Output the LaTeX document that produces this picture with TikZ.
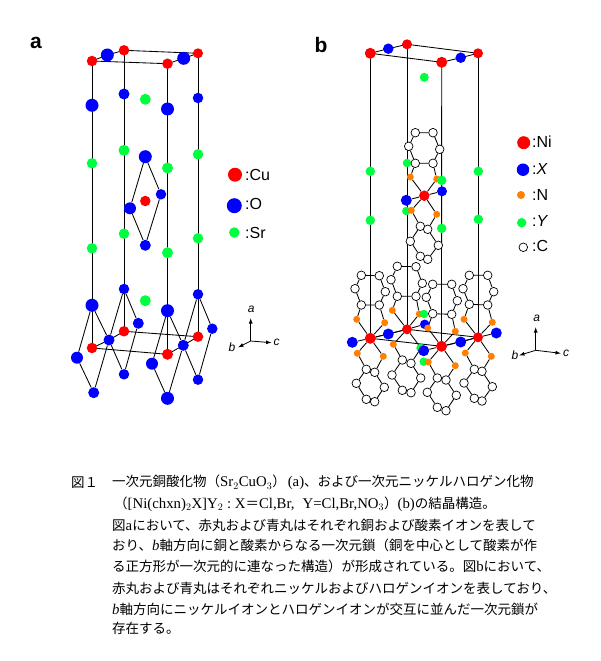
\documentclass[tikz,border=0pt]{standalone}
\usepackage{fontspec}
\setmainfont{Liberation Serif}
\setsansfont{Liberation Sans}
\newfontfamily\cjk{Noto Sans CJK JP}
\usetikzlibrary{backgrounds}
\definecolor{srgreen}{RGB}{0,255,64}
\definecolor{norange}{RGB}{255,128,0}
\tikzset{
    atom/.style={circle, inner sep=0pt},
    redatom/.style={atom, fill=red},
    blueatom/.style={atom, fill=blue},
    greenatom/.style={atom, fill=srgreen},
    orangeatom/.style={atom, fill=norange},
    carbon/.style={atom, draw=black, fill=white, line width=0.7pt, minimum size=8.6pt},
    bond/.style={black, line width=0.85pt},
    panel/.style={font=\sffamily\bfseries\fontsize{21}{21}\selectfont},
    legend/.style={anchor=west, inner sep=0pt, font=\sffamily\fontsize{16}{16}\selectfont},
    axis/.style={black, line width=0.8pt, -latex},
    axislabel/.style={inner sep=0pt, font=\sffamily\itshape\fontsize{12}{12}\selectfont},
    caption/.style={anchor=west, inner sep=0pt, font=\cjk\fontsize{13.5}{13.5}\selectfont}
}
\newcommand{\latin}[1]{{\rmfamily\fontsize{14.8}{14.8}\selectfont #1}}
\begin{document}
\begin{tikzpicture}[x=1pt, y=-1pt]
    \useasboundingbox (0,0) rectangle (600,661);
    \node[panel] (labela) at (36,43) {a};
    \node[panel] (labelb) at (321,45) {b};

    % panel a
    \foreach \n/\x/\y/\d in {sa1/92/163.3/10.5, sa2/124/150.3/11, sa3/167.5/168/11, sa4/198/154.3/10.5,
        sa5/92/248.3/10.5, sa6/124/233.7/10.5, sa7/167.5/252.7/11, sa8/198/238.3/10.5, sa9/145.3/99.3/11, sa10/145.3/300.7/11}
        \node[greenatom, minimum size=\d pt] (\n) at (\x,\y) {};
    \foreach \n/\x/\y/\d in {oa1/92/105.3/13, oa2/124/94/11, oa3/167.5/109/13, oa4/198/98/10.5,
        oa5/107.3/55/13, oa6/183.7/58.3/13,
        oa7/145.3/156.7/13, oa8/161/194.3/10.5, oa9/130/208.3/12, oa10/145.3/245.3/11,
        oa11/92/305.3/13, oa12/124/289/10.5, oa13/167.5/310.7/13, oa14/198/294.3/10.5,
        oa15/138.3/323.3/11, oa16/109/340/11, oa17/77/357.7/12, oa18/152/363.7/12,
        oa19/183.3/345.3/11, oa20/212.3/328.7/10.5, oa21/124/374.3/10.5, oa22/93.7/392.7/11,
        oa23/167.5/398.3/13, oa24/198/379.7/10.5}
        \node[blueatom, minimum size=\d pt] (\n) at (\x,\y) {};
    \foreach \n/\x/\y/\d in {cu1/92/61/10.5, cu2/124/50.3/10.5, cu3/167.5/63.7/10.5, cu4/198/53.3/10,
        cu5/145.3/201/10.5,
        cu6/92/348/10.5, cu7/124/331.3/10.5, cu8/167.5/354.3/11, cu9/198/336.7/10.5}
        \node[redatom, minimum size=\d pt] (\n) at (\x,\y) {};

    % panel b
    \foreach \n/\x/\y in {nB2/419.3/314, nB4/421/348, nE2/436.7/179}
        \node[orangeatom, minimum size=7pt] (\n) at (\x,\y) {};
    \foreach \n/\x/\y/\d in {yb1/370.3/171.3/9.5, yb2/478.3/171.3/9.5, yb3/370.3/220.3/9.5, yb4/478.3/219.3/9.5,
        yb5/407/163/8.5, yb6/441.7/180.3/9.5, yb7/406.3/211/8.5, yb8/441.7/228.3/9.5, yb9/424.3/77.3/9,
        yb10/424/314/8.5, yb11/420.5/348/8.5, yb12/423.7/361.7/8.5}
        \node[greenatom, minimum size=\d pt] (\n) at (\x,\y) {};
    \foreach \n/\x/\y/\d in {xb1/388.3/48.7/10.5, xb2/460.7/57.7/10.5, xb3/406.3/200.3/11, xb4/442/191.3/10,
        xb5/352.3/342.3/11, xb6/388.3/334/11, xb7/424.7/324.3/9.5, xb8/423.7/350.7/11, xb9/460.7/342/11, xb10/496.3/333/11}
        \node[blueatom, minimum size=\d pt] (\n) at (\x,\y) {};
    \foreach \n/\x/\y in {nE1/410.3/177, nE3/411.3/210.3, nE4/436.7/214.3,
        nA1/356.7/319.3, nA2/384.7/322.7, nA3/357.3/353.3, nA4/383.3/356.3,
        nB1/392.3/310.3, nB3/393.3/344.3,
        nC1/427.7/328, nC2/455.3/331.3, nC3/428.3/362, nC4/455.3/365.7,
        nD1/464/319.3, nD2/492.3/322.3, nD3/465.3/353, nD4/491.3/356.3}
        \node[orangeatom, minimum size=7pt] (\n) at (\x,\y) {};
    \foreach \n/\x/\y/\d in {nit1/370.3/53.3/11, nit2/407/44.3/10, nit3/441.7/62.3/11, nit4/478/53.3/10,
        niE/424.3/195.7/10.5, niA/370.3/338.3/11, niB/407/329.3/10, niC/441.5/346.3/11, niD/478/337.3/10}
        \node[redatom, minimum size=\d pt] (\n) at (\x,\y) {};
    % carbon rings, u above and l below the Ni
    \foreach \n/\x/\y in {uE1/415.3/132.7, uE2/433/132.7, uE3/408.7/146.3, uE4/439.7/149.3, uE5/415.3/163.3, uE6/433/163.3,
        lE1/420.3/226.3, lE2/427.7/229.3, lE3/410.3/241.3, lE4/438.3/245.3, lE5/420.3/256.3, lE6/427.7/259.3,
        uA1/361.3/275.3, uA2/379.3/275.7, uA3/355/288.7, uA4/385.3/291.7, uA5/361.3/305, uA6/379.3/305,
        lA1/366.3/369.3, lA2/374.7/372.3, lA3/356.3/383.3, lA4/384.3/387.3, lA5/366.3/399.3, lA6/374.7/401.7,
        uB1/397.3/266.3, uB2/416/266.7, uB3/391/279.7, uB4/422.3/283.3, uB5/397.3/296.3, uB6/416/296.3,
        lB1/402.3/360, lB2/411/363.3, lB3/392/375, lB4/420.7/378, lB5/402.3/390.3, lB6/411/392.7,
        uC1/432.7/284.3, uC2/451.7/284.3, uC3/426.3/297.3, uC4/457.3/300.7, uC5/432.7/313.7, uC6/451.7/314.3,
        lC1/437.3/378, lC2/446/380, lC3/427.3/392.3, lC4/456.3/395.3, lC5/437.3/407.3, lC6/446/410.7,
        uD1/469.3/275.3, uD2/487.7/275.3, uD3/463/288.7, uD4/493.7/291.7, uD5/469.3/304.3, uD6/487.7/305,
        lD1/474.3/369.3, lD2/482/371.3, lD3/464/383, lD4/492.3/386.7, lD5/474.3/398.3, lD6/482/401}
        \node[carbon] (\n) at (\x,\y) {};

    \begin{scope}[on background layer]
        % panel a frame
        \draw[bond] (cu1.center) -- (cu6.center);
        \draw[bond] (cu2.center) -- (cu7.center);
        \draw[bond] (cu3.center) -- (cu8.center);
        \draw[bond] (cu4.center) -- (cu9.center);
        \draw[bond] (cu1.center) -- (oa5.center) -- (cu2.center) -- (cu4.center) -- (oa6.center) -- (cu3.center) -- cycle;
        \draw[bond] (cu6.center) -- (oa16.center) -- (cu7.center) -- (cu9.center) -- (oa19.center) -- (cu8.center) -- cycle;
        % panel a squares
        \draw[bond] (oa7) -- (oa9) -- (oa10) -- (oa8) -- (oa7);
        \draw[bond] (oa11) -- (oa17) -- (oa22) -- (oa16) -- (oa11);
        \draw[bond] (oa12) -- (oa16) -- (oa21) -- (oa15) -- (oa12);
        \draw[bond] (oa13) -- (oa18) -- (oa23) -- (oa19) -- (oa13);
        \draw[bond] (oa14) -- (oa19) -- (oa24) -- (oa20) -- (oa14);
        % panel b frame
        \draw[bond] (nit1.center) -- (niA.center);
        \draw[bond] (nit2.center) -- (niB.center);
        \draw[bond] (nit3.center) -- (niC.center);
        \draw[bond] (nit4.center) -- (niD.center);
        \draw[bond] (nit1.center) -- (xb1.center) -- (nit2.center) -- (nit4.center) -- (xb2.center) -- (nit3.center) -- cycle;
        \draw[bond] (niA.center) -- (niB.center) -- (niD.center) -- (niC.center) -- cycle;
        \draw[bond] (xb5) -- (niA) -- (xb6) -- (niB) -- (xb7);
        \draw[bond] (xb8) -- (niC) -- (xb9) -- (niD) -- (xb10);
        \draw[bond] (xb3) -- (niE) -- (xb4);
        % panel b ligands
        \foreach \c in {A,B,C,D,E} {
            \draw[bond] (u\c1) -- (u\c2) -- (u\c4) -- (u\c6) -- (u\c5) -- (u\c3) -- (u\c1);
            \draw[bond] (l\c1) -- (l\c2) -- (l\c4) -- (l\c6) -- (l\c5) -- (l\c3) -- (l\c1);
            \draw[bond] (u\c5) -- (n\c1) -- (ni\c) -- (n\c2) -- (u\c6);
            \draw[bond] (l\c1) -- (n\c3) -- (ni\c) -- (n\c4) -- (l\c2);
        }
    \end{scope}

    % legend a
    \node[redatom, minimum size=14pt] (keycu) at (235,174.7) {};
    \node[blueatom, minimum size=15pt] (keyo) at (234.3,205.7) {};
    \node[greenatom, minimum size=10.5pt] (keysr) at (234.3,232.5) {};
    \node[legend] (txtcu) at (245,175) {:Cu};
    \node[legend] (txto) at (245,204) {:O};
    \node[legend] (txtsr) at (245,232.5) {:Sr};
    % legend b
    \node[redatom, minimum size=13pt] (keyni) at (523.7,142.7) {};
    \node[blueatom, minimum size=12.5pt] (keyx) at (523,169.7) {};
    \node[orangeatom, minimum size=8pt] (keyn) at (521,195) {};
    \node[greenatom, minimum size=9.5pt] (keyy) at (521.7,222.7) {};
    \node[carbon] (keyc) at (523.3,247.3) {};
    \node[legend] (txtni) at (532,141.5) {:Ni};
    \node[legend] (txtx) at (532,168.5) {:\textit{X}};
    \node[legend] (txtn) at (532,195) {:N};
    \node[legend] (txty) at (532,221) {:\textit{Y}};
    \node[legend] (txtc) at (532,246) {:C};

    % axes
    \coordinate (axisa) at (250.7,341);
    \coordinate (tipaa) at (250.7,318.3);
    \coordinate (tipab) at (238.3,347.3);
    \coordinate (tipac) at (271.3,342.7);
    \draw[axis] (axisa) -- (tipaa);
    \draw[axis] (axisa) -- (tipab);
    \draw[axis] (axisa) -- (tipac);
    \node[axislabel] (axlaa) at (251.3,309.7) {a};
    \node[axislabel] (axlab) at (232,347.3) {b};
    \node[axislabel] (axlac) at (276.7,342.7) {c};
    \coordinate (axisb) at (535.7,350.3);
    \coordinate (tipba) at (535.7,327.3);
    \coordinate (tipbb) at (519.3,355.3);
    \coordinate (tipbc) at (560.7,353.3);
    \draw[axis] (axisb) -- (tipba);
    \draw[axis] (axisb) -- (tipbb);
    \draw[axis] (axisb) -- (tipbc);
    \node[axislabel] (axlba) at (536.7,318.7) {a};
    \node[axislabel] (axlbb) at (515,355.3) {b};
    \node[axislabel] (axlbc) at (566,353.7) {c};

    % caption
    \node[caption] (capnum) at (71,482.7) {図１};
    \node[caption] (cap1) at (112,482.7) {一次元銅酸化物（\latin{Sr$_2$CuO$_3$}）\hspace{2pt}\latin{(a)}、および一次元ニッケルハロゲン化物};
    \node[caption] (cap2) at (114,504.3) {（\latin{[Ni(chxn)$_2$X]Y$_2$ :~X}＝\latin{Cl,Br,\hspace{8pt}Y=Cl,Br,NO$_3$}）\latin{(b)}の結晶構造。};
    \node[caption] (cap3) at (112,525) {図\latin{a}において、赤丸および青丸はそれぞれ銅および酸素イオンを表して};
    \node[caption] (cap4) at (112,545) {おり、\latin{\textit{b}}軸方向に銅と酸素からなる一次元鎖（銅を中心として酸素が作};
    \node[caption] (cap5) at (112,566) {る正方形が一次元的に連なった構造）が形成されている。図\latin{b}において、};
    \node[caption] (cap6) at (112,588.3) {赤丸および青丸はそれぞれニッケルおよびハロゲンイオンを表しており、};
    \node[caption] (cap7) at (112,609) {\latin{\textit{b}}軸方向にニッケルイオンとハロゲンイオンが交互に並んだ一次元鎖が};
    \node[caption] (cap8) at (112,628) {存在する。};
\end{tikzpicture}
\end{document}
